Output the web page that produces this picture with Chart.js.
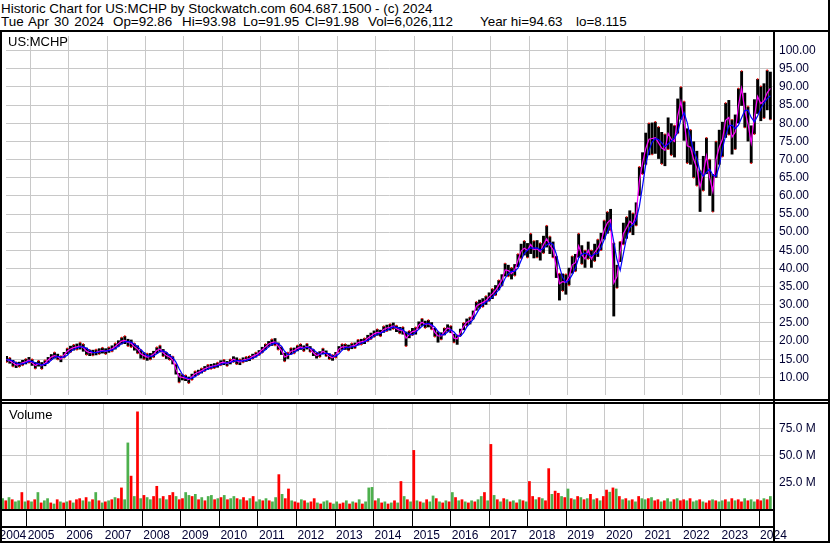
<!DOCTYPE html>
<html>
<head>
<meta charset="utf-8">
<script src="https://cdn.jsdelivr.net/npm/chart.js@4.4.1/dist/chart.umd.min.js"></script>
<style>
body { margin: 0; background: #fff; }
#wrap { position: relative; width: 830px; height: 543px; overflow: hidden; font-family: "Liberation Sans", Arial, sans-serif; color: #000; }
.txt { position: absolute; white-space: pre; line-height: 16px; }
.hd { font-size: 13.4px; top: 13.9px; }
.ln { position: absolute; background: #000; }
canvas { position: absolute; }
</style>
</head>
<body>
<div id="wrap">
  <div class="txt" style="left:1px;top:1.4px;font-size:13.4px">Historic Chart for US:MCHP by Stockwatch.com 604.687.1500 - (c) 2024</div>
  <div class="txt hd" style="left:1px;word-spacing:1.5px">Tue Apr 30 2024</div>
  <div class="txt hd" style="left:113px">Op=92.86</div>
  <div class="txt hd" style="left:182px">Hi=93.98</div>
  <div class="txt hd" style="left:243px">Lo=91.95</div>
  <div class="txt hd" style="left:305px">Cl=91.98</div>
  <div class="txt hd" style="left:368px">Vol=6,026,112</div>
  <div class="txt hd" style="left:480px">Year hi=94.63</div>
  <div class="txt hd" style="left:576px">lo=8.115</div>
  <canvas id="price" width="826" height="367" style="left:2px;top:32px"></canvas>
  <canvas id="vol" width="826" height="137" style="left:2px;top:404px"></canvas>
  <div class="txt" style="left:8px;top:34px;font-size:13px">US:MCHP</div>
  <div class="txt" style="left:9px;top:406.5px;font-size:13px">Volume</div>
  <div class="ln" style="left:0;top:30px;width:830px;height:2px"></div>
  <div class="ln" style="left:0;top:30px;width:2px;height:513px"></div>
  <div class="ln" style="left:828px;top:0;width:2px;height:543px"></div>
  <div class="ln" style="left:0;top:541px;width:830px;height:2px"></div>
  <div class="ln" style="left:773px;top:30px;width:2px;height:513px"></div>
  <div class="ln" style="left:0;top:399px;width:830px;height:2px"></div>
  <div class="ln" style="left:0;top:402px;width:830px;height:2px"></div>
  <div class="ln" style="left:0;top:509px;width:775px;height:2px"></div>
  <div class="ln" style="left:0;top:526px;width:775px;height:2px"></div>
</div>
<script>
// monthly bars, May 2004 .. Apr 2024
const startYear = 2004, startMonth = 5;

// short moving average (magenta)
const mid = [
  15.0, 14.6, 14.0, 13.4, 13.6, 14.0, 14.3, 14.8,
  14.0, 13.3, 13.8, 13.2, 13.9, 14.8, 15.6, 16.0, 15.7, 15.0, 16.2, 17.2,
  17.8, 18.2, 18.4, 18.6, 18.2, 17.2, 16.8, 16.8, 16.9, 17.2, 17.4, 17.2,
  17.5, 17.9, 18.5, 19.3, 20.0, 20.2, 19.6, 19.4, 18.4, 17.8, 16.5, 16.0,
  15.6, 15.8, 16.4, 17.4, 17.8, 16.8, 16.0, 15.6, 14.8, 12.2, 10.2, 10.0,
  9.8, 9.4, 10.2, 11.0, 11.4, 11.8, 12.4, 12.8, 13.0, 13.2, 13.4, 14.0,
  14.2, 13.8, 14.3, 15.0, 14.6, 14.2, 14.8, 15.0, 15.2, 15.8, 16.2, 16.8,
  17.6, 18.4, 19.2, 19.6, 19.8, 18.6, 17.4, 15.6, 16.0, 17.2, 17.4, 18.0,
  18.4, 18.0, 18.5, 17.8, 16.8, 16.0, 16.4, 17.2, 16.6, 15.8, 15.4, 16.2,
  17.8, 18.4, 18.4, 18.2, 18.6, 18.8, 19.6, 19.8, 20.0, 20.8, 21.4, 22.0,
  22.4, 22.2, 23.2, 23.6, 23.8, 24.2, 23.4, 23.0, 23.0, 20.8, 21.8, 22.6,
  22.8, 24.4, 25.2, 24.6, 24.8, 24.2, 22.4, 21.4, 21.4, 22.6, 23.6, 23.2,
  20.8, 20.6, 22.4, 24.0, 25.2, 25.6, 27.2, 29.6, 30.2, 30.6, 31.2, 32.2,
  33.0, 34.0, 35.4, 36.8, 39.6, 39.4, 38.6, 39.6, 42.2, 44.8, 45.6, 45.0,
  46.6, 45.2, 45.4, 44.6, 46.6, 48.2, 46.4, 45.2, 40.4, 35.8, 36.4, 36.2,
  37.8, 41.0, 41.6, 46.2, 43.8, 42.6, 45.0, 42.6, 44.4, 45.6, 47.4, 50.6,
  52.6, 53.4, 36.0, 37.8, 44.6, 49.6, 51.2, 53.0, 52.2, 55.0, 64.0, 69.0,
  73.0, 75.6, 75.8, 76.0, 74.6, 73.2, 72.6, 77.2, 75.6, 75.0, 82.0, 86.0,
  80.6, 73.8, 73.4, 70.0, 67.6, 62.4, 66.2, 71.0, 65.0, 61.2, 70.0, 73.4,
  75.6, 80.8, 81.6, 76.2, 77.6, 84.8, 89.6, 83.6, 79.8, 74.6, 81.8, 87.4,
  85.4, 86.2, 88.4, 89.6
];

const hi = [
  15.9, 15.4, 14.8, 14.2, 14.3, 14.8, 15.1, 15.6,
  15.0, 14.2, 14.6, 14.2, 14.7, 15.6, 16.4, 16.9, 16.5, 15.9, 17.0, 18.0,
  18.7, 19.0, 19.3, 19.6, 19.2, 18.2, 17.6, 17.6, 17.7, 18.0, 18.2, 18.0,
  18.3, 18.8, 19.4, 20.2, 21.0, 21.4, 20.6, 20.4, 19.4, 18.8, 17.6, 16.9,
  16.6, 16.7, 17.3, 18.3, 18.8, 17.8, 16.9, 16.4, 15.8, 13.6, 11.2, 10.8,
  10.6, 10.2, 11.0, 11.7, 12.1, 12.5, 13.1, 13.5, 13.7, 13.9, 14.1, 14.7,
  14.9, 14.5, 15.0, 15.8, 15.5, 15.0, 15.5, 15.7, 15.9, 16.5, 16.9, 17.5,
  18.4, 19.2, 20.0, 20.5, 20.8, 19.6, 18.4, 16.8, 16.9, 18.1, 18.2, 18.8,
  19.2, 18.8, 19.3, 18.6, 17.7, 16.8, 17.2, 18.0, 17.4, 16.6, 16.2, 17.0,
  18.6, 19.2, 19.2, 19.0, 19.4, 19.6, 20.4, 20.6, 20.8, 21.7, 22.3, 22.9,
  23.3, 23.1, 24.1, 24.5, 24.7, 25.1, 24.3, 23.9, 23.9, 22.6, 22.8, 23.6,
  23.8, 25.4, 26.2, 25.6, 25.8, 25.2, 23.6, 22.6, 22.4, 23.6, 24.6, 24.2,
  22.0, 21.6, 23.4, 25.0, 26.2, 26.6, 28.4, 30.8, 31.4, 31.8, 32.4, 33.4,
  34.4, 35.4, 36.8, 38.4, 41.4, 41.0, 40.2, 41.2, 44.0, 46.8, 47.6, 47.0,
  49.6, 47.6, 47.8, 47.0, 49.0, 51.8, 48.8, 47.4, 43.4, 38.6, 38.6, 38.4,
  40.2, 43.4, 44.0, 49.6, 46.4, 45.0, 47.4, 45.0, 46.8, 48.0, 49.8, 53.2,
  55.6, 56.4, 47.0, 41.0, 47.4, 52.6, 54.2, 56.0, 55.2, 58.2, 68.0, 72.0,
  77.4, 80.0, 80.2, 80.4, 79.0, 77.6, 77.0, 81.6, 80.0, 79.4, 86.8, 90.0,
  86.0, 78.6, 78.2, 75.0, 72.4, 67.0, 71.0, 76.0, 70.0, 66.0, 75.0, 78.2,
  80.4, 85.6, 86.4, 81.0, 82.4, 89.6, 94.4, 88.4, 84.6, 79.4, 86.6, 92.2,
  90.2, 91.0, 94.6, 94.2
];

const lo = [
  14.2, 13.8, 13.0, 12.6, 12.9, 13.3, 13.6, 14.0,
  13.2, 12.4, 13.0, 12.3, 13.1, 14.0, 14.8, 15.2, 14.9, 14.2, 15.4, 16.4,
  16.9, 17.4, 17.6, 17.7, 17.1, 16.2, 15.9, 16.0, 16.1, 16.4, 16.6, 16.4,
  16.8, 17.1, 17.7, 18.5, 19.1, 19.2, 18.6, 18.3, 17.4, 16.6, 15.2, 15.0,
  14.6, 14.9, 15.5, 16.5, 16.9, 15.8, 15.1, 14.8, 13.6, 10.8, 8.6, 9.2,
  9.0, 8.4, 9.3, 10.3, 10.7, 11.1, 11.7, 12.1, 12.3, 12.5, 12.7, 13.3,
  13.4, 13.1, 13.6, 14.2, 13.6, 13.4, 14.1, 14.3, 14.5, 15.1, 15.5, 16.1,
  16.8, 17.6, 18.4, 18.7, 18.8, 17.6, 16.2, 14.4, 15.1, 16.3, 16.6, 17.2,
  17.6, 17.2, 17.7, 17.0, 15.9, 15.2, 15.6, 16.4, 15.8, 15.0, 14.6, 15.4,
  17.0, 17.6, 17.6, 17.4, 17.8, 18.0, 18.8, 19.0, 19.2, 19.9, 20.5, 21.1,
  21.5, 21.3, 22.3, 22.7, 22.9, 23.3, 22.5, 22.1, 21.8, 18.6, 20.8, 21.6,
  21.8, 23.4, 24.2, 23.6, 23.8, 23.2, 21.2, 19.6, 20.4, 21.6, 22.6, 22.2,
  19.6, 19.0, 21.4, 23.0, 24.2, 24.6, 26.0, 28.4, 29.0, 29.4, 30.0, 31.0,
  31.6, 32.6, 34.0, 35.2, 37.8, 37.8, 37.0, 38.0, 40.4, 42.8, 43.6, 43.0,
  44.0, 42.8, 43.0, 42.2, 44.2, 45.8, 44.0, 43.0, 37.4, 31.2, 33.8, 32.8,
  35.4, 38.6, 39.2, 43.0, 41.2, 40.2, 42.6, 40.2, 42.0, 43.2, 45.0, 48.0,
  49.6, 50.4, 26.8, 34.6, 41.8, 46.6, 48.2, 50.0, 49.2, 51.8, 60.0, 66.0,
  68.6, 71.2, 71.4, 71.6, 70.2, 68.8, 68.2, 72.8, 71.2, 70.6, 77.2, 81.0,
  75.2, 69.0, 68.6, 65.0, 62.8, 55.6, 61.4, 66.0, 60.0, 55.6, 65.0, 68.6,
  70.8, 76.0, 76.8, 71.4, 72.8, 80.0, 84.8, 78.8, 75.0, 69.0, 77.0, 82.6,
  80.6, 81.4, 83.6, 81.0
];

// long moving average (blue)
const avg = [
  14.8, 14.8, 14.5, 14.0, 13.7, 13.7, 14.0, 14.4,
  14.4, 14.0, 13.7, 13.4, 13.6, 14.0, 14.8, 15.5, 15.8, 15.6, 15.6, 16.1,
  17.1, 17.7, 18.1, 18.4, 18.4, 18.0, 17.4, 16.9, 16.8, 17.0, 17.2, 17.3,
  17.4, 17.5, 18.0, 18.6, 19.3, 19.8, 19.9, 19.7, 19.1, 18.5, 17.6, 16.8,
  16.0, 15.8, 15.9, 16.5, 17.2, 17.3, 16.9, 16.1, 15.5, 14.2, 12.4, 10.8,
  10.0, 9.7, 9.8, 10.2, 10.9, 11.4, 11.9, 12.3, 12.7, 13.0, 13.2, 13.5,
  13.9, 14.0, 14.1, 14.4, 14.6, 14.6, 14.5, 14.7, 15.0, 15.3, 15.7, 16.3,
  16.9, 17.6, 18.4, 19.1, 19.5, 19.3, 18.6, 17.2, 16.3, 16.3, 16.9, 17.5,
  17.9, 18.1, 18.3, 18.1, 17.7, 16.9, 16.4, 16.5, 16.7, 16.5, 15.9, 15.8,
  16.5, 17.5, 18.2, 18.3, 18.4, 18.5, 19.0, 19.4, 19.8, 20.2, 20.7, 21.4,
  21.9, 22.2, 22.6, 23.0, 23.5, 23.9, 23.8, 23.5, 23.1, 22.3, 21.9, 21.7,
  22.4, 23.3, 24.1, 24.7, 24.9, 24.5, 23.8, 22.7, 21.7, 21.8, 22.5, 23.1,
  22.5, 21.5, 21.3, 22.3, 23.9, 24.9, 26.0, 27.5, 29.0, 30.1, 30.7, 31.3,
  32.1, 33.1, 34.1, 35.4, 37.3, 38.6, 39.2, 39.2, 40.1, 42.2, 44.2, 45.1,
  45.7, 45.6, 45.7, 45.1, 45.5, 46.5, 47.1, 46.6, 44.0, 40.5, 37.5, 36.1,
  36.8, 38.3, 40.1, 42.9, 43.9, 44.2, 43.8, 43.4, 44.0, 44.2, 45.8, 47.9,
  50.2, 52.2, 47.3, 42.4, 39.5, 44.0, 48.5, 51.3, 52.1, 53.4, 57.1, 62.7,
  68.7, 72.5, 74.8, 75.8, 75.5, 74.6, 73.5, 74.3, 75.1, 75.9, 77.5, 81.0,
  82.9, 80.1, 75.9, 72.4, 70.3, 66.7, 65.4, 66.5, 67.4, 65.7, 65.4, 68.2,
  73.0, 76.6, 79.3, 79.5, 78.5, 79.5, 81.5, 83.5, 83.6, 81.6, 80.4, 82.0,
  84.0, 85.6, 86.8, 87.6
];

// volume in millions of shares
const vol = [
  10, 8, 11, 9, 7, 8, 15.7, 7,
  8, 7, 9, 15.7, 6, 8, 10, 6, 5, 9, 7, 6,
  7, 8, 6, 9, 10, 8, 11, 7, 9, 15.7, 8, 6,
  7, 8, 9, 11, 10, 20, 9, 62, 31, 12, 91, 10,
  13, 11, 9, 12, 21.5, 10, 12, 9, 13, 15.7, 12, 9,
  10, 15.7, 13, 12, 14, 9, 11, 8, 12, 13, 9, 10,
  11, 13, 9, 10, 12, 10, 9, 11, 8, 10, 12, 7,
  9, 8, 10, 8, 7, 11, 32.4, 14, 10, 19, 8, 7,
  6, 9, 8, 6, 7, 10, 6, 5, 7, 8, 6, 5,
  7, 5, 6, 8, 5, 7, 6, 9, 5, 7, 20, 20.5,
  8, 10, 6, 7, 5, 6, 8, 6, 26, 12, 9, 7,
  55, 8, 7, 6, 9, 7, 12.5, 10, 7, 6, 8, 7,
  15.7, 11, 8, 9, 7, 6, 8, 7, 9, 12, 15.7, 8,
  60.6, 13, 9, 7, 10, 9, 7, 8, 6, 9, 8, 7,
  26, 12, 9, 11, 10, 8, 38, 14, 17, 15, 12, 11,
  19, 10, 9, 12, 11, 9, 10, 14, 9, 10, 8, 12,
  18, 16, 20, 19, 12, 9, 10, 8, 9, 7, 12, 10,
  9, 10, 11, 8, 9, 7, 8, 10, 7, 9, 10, 8,
  9, 8, 10, 7, 8, 9, 7, 6, 8, 9, 8, 7,
  8, 9, 7, 10, 8, 9, 7, 10, 8, 9, 7, 9,
  8, 10, 9, 12
];

// 1 = up (green), 0 = down (red)
const volUp = (
  '10101101' +
  '010101101010' + '101001010101' + '010100110101' + '011001010010' +
  '011010101101' + '010110100101' + '101011010010' + '010100101101' +
  '100101010111' + '010101010101' + '010101101010' + '101010101101' +
  '010101010101' + '001010010010' + '101010101010' + '010101010101' +
  '101001011010' + '010110100101' + '101010010110' +
  '0101'
);

const priceTicks = [10, 15, 20, 25, 30, 35, 40, 45, 50, 55, 60, 65, 70, 75, 80, 85, 90, 95, 100];
const volTicks = [25, 50, 75];
const years = [2004, 2005, 2006, 2007, 2008, 2009, 2010, 2011, 2012, 2013, 2014,
               2015, 2016, 2017, 2018, 2019, 2020, 2021, 2022, 2023, 2024];
const xMin = 2004.36, xMax = 2024.36;
const firstLabelAt = 2004.27;   // the 2004 label sits just left of the plot start

const xs = mid.map((_, i) => startYear + (startMonth - 1 + i + 0.5) / 12);
const gridCol = '#c8c8c8';
const axisFont = { family: 'Liberation Sans, Arial, sans-serif', size: 12 };
const axisCol = '#000033';

// keep the plot area exactly where the frame expects it
function noPad(s) { s.paddingTop = 0; s.paddingBottom = 0; s.paddingLeft = 0; s.paddingRight = 0; }

Chart.defaults.animation = false;

new Chart(document.getElementById('price'), {
  type: 'bar',
  data: {
    datasets: [
      {
        type: 'line', order: 0,
        data: xs.map((x, i) => ({ x: x, y: avg[i] })),
        borderColor: '#0000ff', borderWidth: 1.2, pointRadius: 0, tension: 0
      },
      {
        type: 'line', order: 1,
        data: xs.map((x, i) => ({ x: x, y: mid[i] })),
        borderColor: '#ff00ff', borderWidth: 1.2, pointRadius: 0, tension: 0
      },
      {
        type: 'line', order: 2, showLine: false,
        data: xs.map((x, i) => ({ x: x, y: volUp[i] === '1' ? lo[i] : hi[i] })),
        pointStyle: 'rect', pointRadius: 1, borderWidth: 0, backgroundColor: '#ff0000'
      },
      {
        type: 'bar', order: 3,
        data: xs.map((x, i) => ({ x: x, y: [lo[i], hi[i]] })),
        backgroundColor: '#000000', barPercentage: 0.9, categoryPercentage: 1
      }
    ]
  },
  options: {
    responsive: false,
    layout: { padding: 0 },
    plugins: { legend: { display: false }, tooltip: { enabled: false } },
    scales: {
      x: {
        type: 'linear', min: xMin, max: xMax, offset: false,
        afterBuildTicks: s => { s.ticks = years.slice(1).map(v => ({ value: v })); },
        afterFit: s => { s.height = 0; noPad(s); },
        ticks: { display: false },
        grid: { color: gridCol, drawTicks: false, offset: false },
        border: { display: false }
      },
      y: {
        position: 'right', min: 5.15, max: 104.04,
        afterBuildTicks: s => { s.ticks = priceTicks.map(v => ({ value: v })); },
        afterFit: s => { s.width = 55; noPad(s); },
        ticks: { callback: v => v.toFixed(2), font: axisFont, color: axisCol, padding: 6 },
        grid: { color: gridCol, drawTicks: false },
        border: { display: false }
      }
    }
  }
});

new Chart(document.getElementById('vol'), {
  type: 'bar',
  data: {
    datasets: [{
      data: xs.map((x, i) => ({ x: x, y: vol[i] })),
      backgroundColor: xs.map((_, i) => volUp[i] === '1' ? '#4db04d' : '#ff0000'),
      barPercentage: 0.85, categoryPercentage: 1
    }]
  },
  options: {
    responsive: false,
    layout: { padding: 0 },
    plugins: { legend: { display: false }, tooltip: { enabled: false } },
    scales: {
      x: {
        type: 'linear', min: xMin, max: xMax, offset: false,
        afterBuildTicks: s => { s.ticks = years.map(v => ({ value: v < xMin ? firstLabelAt : v })); },
        afterFit: s => { s.height = 32; noPad(s); },
        ticks: {
          callback: (v, i) => String(years[i]), autoSkip: false, maxRotation: 0, minRotation: 0,
          align: 'start', labelOffset: 1, padding: 2, font: axisFont, color: axisCol
        },
        grid: { color: gridCol, tickColor: '#000', tickLength: 17, offset: false },
        border: { display: false }
      },
      y: {
        position: 'right', min: 0, max: 98,
        afterBuildTicks: s => { s.ticks = volTicks.map(v => ({ value: v })); },
        afterFit: s => { s.width = 55; noPad(s); },
        ticks: { callback: v => v.toFixed(1) + ' M', font: axisFont, color: axisCol, padding: 6 },
        grid: { color: gridCol, drawTicks: false },
        border: { display: false }
      }
    }
  }
});
</script>
</body>
</html>
